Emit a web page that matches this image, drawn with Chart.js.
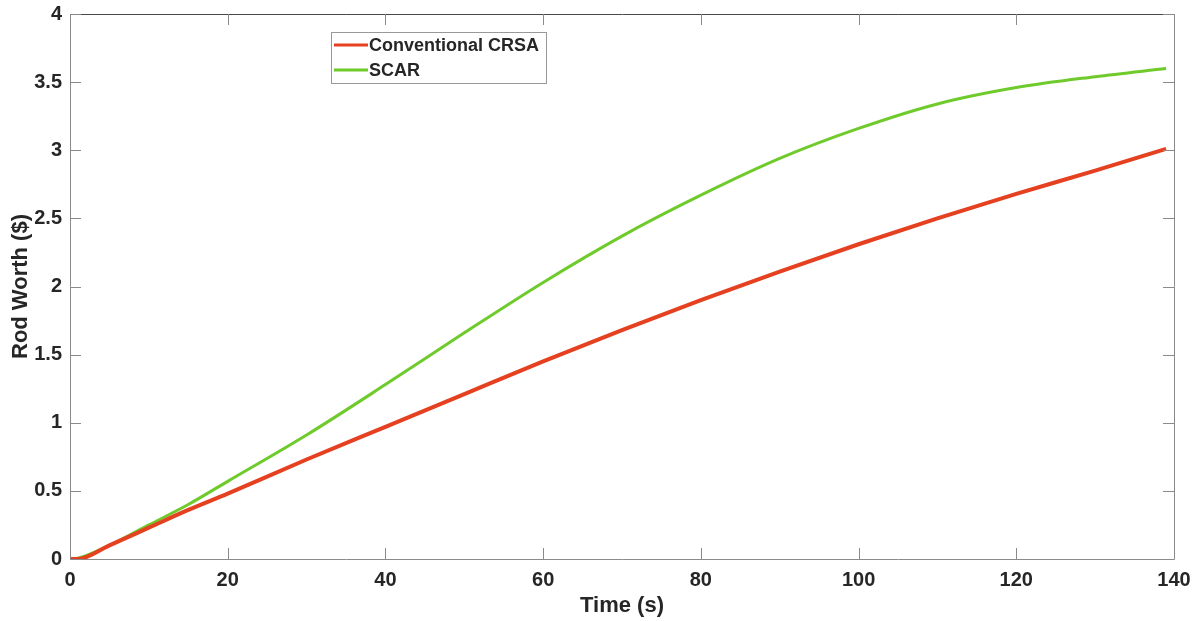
<!DOCTYPE html>
<html>
<head>
<meta charset="utf-8">
<title>Rod Worth</title>
<script src="https://cdn.jsdelivr.net/npm/chart.js@4.4.0/dist/chart.umd.min.js"></script>
<style>
  html, body { margin: 0; padding: 0; background: #ffffff; }
  #graphCanvas { display: block; }
</style>
</head>
<body>
<canvas id="graphCanvas" width="1197" height="621"></canvas>
<script>
/**
* Données : temps (s) et valeur de la barre (en $)
*/
var temps = [0, 1, 5, 10, 15, 20, 30, 40, 50, 60, 70, 80, 90, 100, 110, 120, 130, 139];
var crsa  = [0, 0, 0.10, 0.23, 0.36, 0.48, 0.73, 0.97, 1.21, 1.45, 1.68, 1.90, 2.11, 2.31, 2.50, 2.68, 2.85, 3.01];
var scar  = [0, 0.005, 0.10, 0.25, 0.40, 0.57, 0.91, 1.28, 1.66, 2.03, 2.37, 2.67, 2.94, 3.16, 3.34, 3.46, 3.54, 3.60];
var nomsSeries = ['Conventional CRSA', 'SCAR'];
var ticksX = [0, 20, 40, 60, 80, 100, 120, 140];
var ticksY = [0, 0.5, 1, 1.5, 2, 2.5, 3, 3.5, 4];

var couleurTexte = '#262626';
var police = "'Liberation Sans', Arial, Helvetica, sans-serif";

function points(xs, ys)
{
  var res = [];
  for (var i = 0; i < xs.length; i++) {
    res.push({x: xs[i], y: ys[i]});
  }
  return res;
}

/**
* Supprime la marge automatique des étiquettes pour garder la zone du graphe fixe
*/
function sansMarge(scale)
{
  scale.paddingTop = 0;
  scale.paddingBottom = 0;
  scale.paddingLeft = 0;
  scale.paddingRight = 0;
}

/**
* Cadre type MATLAB : boite complete + graduations vers l'interieur
*/
var cadrePlugin = {
  id: 'cadre',
  afterDatasetsDraw: function (chart)
  {
    var ctx = chart.ctx;
    var a = chart.chartArea;
    var sx = chart.scales.x;
    var sy = chart.scales.y;
    var lg = 11;
    ctx.save();
    ctx.lineWidth = 1;
    ctx.strokeStyle = '#8a8a8a';
    ctx.beginPath();
    ctx.moveTo(a.left + 0.5, a.top);
    ctx.lineTo(a.left + 0.5, a.bottom + 0.5);
    ctx.lineTo(a.right + 0.5, a.bottom + 0.5);
    ctx.lineTo(a.right + 0.5, a.top);
    ctx.stroke();
    ctx.strokeStyle = '#4a4a4a';
    ctx.beginPath();
    ctx.moveTo(a.left, a.top + 0.5);
    ctx.lineTo(a.right + 1, a.top + 0.5);
    ctx.stroke();

    ctx.strokeStyle = '#8a8a8a';
    ctx.beginPath();
    for (var i = 0; i < ticksX.length; i++) {
      var px = Math.round(sx.getPixelForValue(ticksX[i])) + 0.5;
      ctx.moveTo(px, a.bottom);
      ctx.lineTo(px, a.bottom - lg);
      ctx.moveTo(px, a.top);
      ctx.lineTo(px, a.top + lg);
    }
    for (var j = 0; j < ticksY.length; j++) {
      var py = Math.round(sy.getPixelForValue(ticksY[j])) + 0.5;
      ctx.moveTo(a.left, py);
      ctx.lineTo(a.left + lg, py);
      ctx.moveTo(a.right, py);
      ctx.lineTo(a.right - lg, py);
    }
    ctx.stroke();
    ctx.restore();
  }
};

/**
* Légende dessinée dans la zone du graphe (boite en haut a gauche)
*/
var legendePlugin = {
  id: 'legendeBoite',
  afterDraw: function (chart)
  {
    var ctx = chart.ctx;
    var x0 = 331, y0 = 32, w = 215, h = 51;
    ctx.save();
    ctx.fillStyle = '#ffffff';
    ctx.fillRect(x0, y0, w, h);
    ctx.strokeStyle = '#999999';
    ctx.lineWidth = 1;
    ctx.strokeRect(x0 + 0.5, y0 + 0.5, w, h);
    ctx.font = 'bold 18px ' + police;
    ctx.textBaseline = 'middle';
    ctx.textAlign = 'left';
    var ds = chart.data.datasets;
    for (var i = 0; i < ds.length; i++) {
      var yy = y0 + 13 + i * 25;
      ctx.strokeStyle = ds[i].borderColor;
      ctx.lineWidth = 3;
      ctx.beginPath();
      ctx.moveTo(x0 + 3, yy);
      ctx.lineTo(x0 + 37, yy);
      ctx.stroke();
      ctx.fillStyle = couleurTexte;
      ctx.fillText(ds[i].label, x0 + 38, yy + 1);
    }
    ctx.restore();
  }
};

function showGraphRodWorth()
{
  var chartdata = {
    datasets: [
      {
        label: nomsSeries[0],
        data: points(temps, crsa),
        borderColor: '#e5401f',
        borderWidth: 4,
        pointRadius: 0,
        cubicInterpolationMode: 'monotone',
        fill: false
      },
      {
        label: nomsSeries[1],
        data: points(temps, scar),
        borderColor: '#6ecb2b',
        borderWidth: 3,
        pointRadius: 0,
        cubicInterpolationMode: 'monotone',
        fill: false
      }
    ]
  };

  var graphTarget = document.getElementById('graphCanvas');

  var lineGraph = new Chart(graphTarget, {
    type: 'line',
    data: chartdata,
    plugins: [cadrePlugin, legendePlugin],
    options: {
      responsive: false,
      animation: false,
      layout: {
        padding: {left: 0, top: 14, right: 23, bottom: 0}
      },
      plugins: {
        legend: { display: false },
        tooltip: { enabled: false }
      },
      scales: {
        x: {
          type: 'linear',
          min: 0,
          max: 140,
          afterBuildTicks: function (scale) {
            scale.ticks = ticksX.map(function (v) { return {value: v}; });
          },
          afterFit: function (scale) { scale.height = 62; sansMarge(scale); },
          grid: { display: false, drawTicks: false },
          border: { display: false },
          ticks: {
            color: couleurTexte,
            font: { family: police, size: 20, weight: 'bold' },
            padding: 9,
            maxRotation: 0,
            callback: function (v) { return String(v); }
          },
          title: {
            display: true,
            text: 'Time (s)',
            color: couleurTexte,
            font: { family: police, size: 22, weight: 'bold' },
            padding: { top: 0, bottom: 2 }
          }
        },
        y: {
          min: 0,
          max: 4,
          afterBuildTicks: function (scale) {
            scale.ticks = ticksY.map(function (v) { return {value: v}; });
          },
          afterFit: function (scale) { scale.width = 70; sansMarge(scale); },
          grid: { display: false, drawTicks: false },
          border: { display: false },
          ticks: {
            color: couleurTexte,
            font: { family: police, size: 20, weight: 'bold' },
            padding: 8,
            callback: function (v) { return String(v); }
          },
          title: {
            display: true,
            text: 'Rod Worth ($)',
            color: couleurTexte,
            font: { family: police, size: 22, weight: 'bold' },
            padding: { top: 8, bottom: 0 }
          }
        }
      }
    }
  });
}

showGraphRodWorth();
</script>
</body>
</html>
